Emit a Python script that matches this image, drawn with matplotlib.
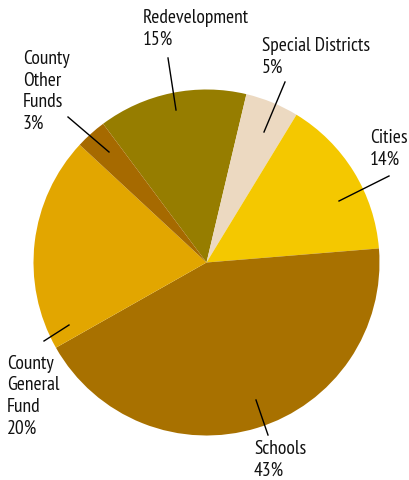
import matplotlib
matplotlib.use("Agg")
import matplotlib.pyplot as plt

names = ["Redevelopment", "Special Districts", "Cities", "Schools",
         "County\nGeneral\nFund", "County\nOther\nFunds"]
values = [13.9, 5.0, 15.0, 43.1, 20.1, 2.9]
pct_labels = ["15%", "5%", "14%", "43%", "20%", "3%"]
colors = ["#967d00", "#ecd9c1", "#f4c800", "#a87100", "#e2a600", "#a66a00"]

W, H = 410, 480
fig = plt.figure(figsize=(W / 100, H / 100), dpi=100)
ax = fig.add_axes([0, 0, 1, 1])

ax.pie(values, colors=colors, center=(206.5, H - 262.5), radius=173,
       startangle=126.7, counterclock=False,
       wedgeprops=dict(linewidth=0))
ax.set_xlim(0, W)
ax.set_ylim(0, H)
ax.set_aspect("equal")
ax.axis("off")

font = dict(family=["PT Sans Narrow", "Fira Sans Condensed", "Lato", "DejaVu Sans"],
            fontsize=14, color="#111111")

# label text top-left positions and leader lines (px from top)
text_pos = [(143, 9), (262, 37), (370, 129), (254, 440), (7, 355), (23, 50)]
leaders = [((168, 58), (176, 110)),
           ((285, 82), (264, 132)),
           ((389, 176), (339, 201)),
           ((256, 400), (268, 435)),
           ((69, 325), (44, 341)),
           ((68, 117), (109, 152))]

for name, pct, (tx, ty), (p0, p1) in zip(names, pct_labels, text_pos, leaders):
    ax.text(tx, H - ty, name + "\n" + pct, ha="left", va="top",
            linespacing=1.25, **font)
    ax.plot([p0[0], p1[0]], [H - p0[1], H - p1[1]], color="black", lw=1)

fig.savefig("out.png", dpi=100)
